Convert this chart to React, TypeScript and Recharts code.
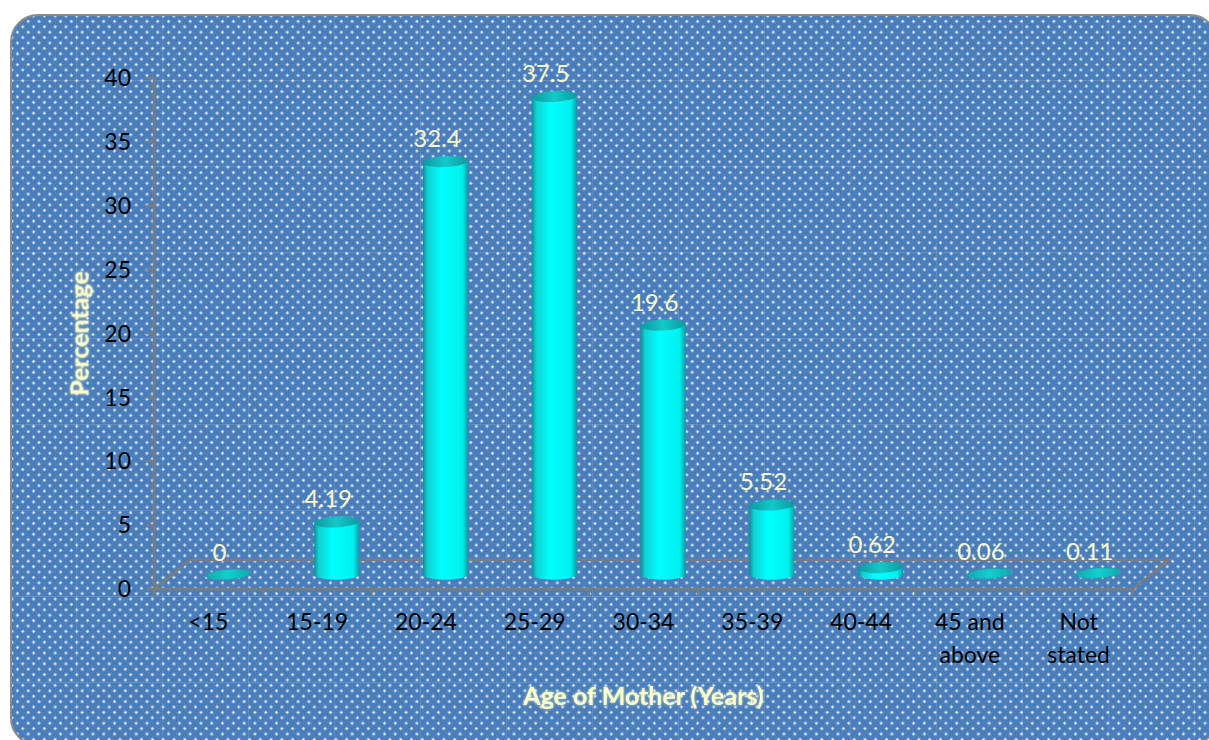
import { BarChart, Bar, XAxis, YAxis, LabelList } from 'recharts';

const categories = ['<15', '15-19', '20-24', '25-29', '30-34', '35-39', '40-44', '45 and\nabove', 'Not\nstated'];
const percentages = [0, 4.19, 32.4, 37.5, 19.6, 5.52, 0.62, 0.06, 0.11];
const yTicks = [0, 5, 10, 15, 20, 25, 30, 35, 40];

const data = categories.map((name, i) => ({ name, value: percentages[i] }));

const AXIS = '#7c7c7c';
const CREAM = '#fdf8c8';
const FONT = 'Lato, "Open Sans", sans-serif';

// floor is a parallelogram behind the bars, the bars stand halfway into it
const DEPTH_X = 36;
const DEPTH_Y = 29;
const BAND = 108.8;

const panelStyle: React.CSSProperties = {
  position: 'absolute',
  left: 10,
  top: 14,
  width: 1208,
  height: 732,
  boxSizing: 'border-box',
  border: '2px solid #8a8a8a',
  borderRadius: 28,
  backgroundColor: '#4a7ebb',
  backgroundImage: [
    'linear-gradient(rgba(255,255,255,0.13) 1px, transparent 1px)',
    'linear-gradient(90deg, rgba(255,255,255,0.1) 1px, transparent 1px)',
    'radial-gradient(circle, #ffffff 0, #ffffff 0.6px, rgba(255,255,255,0.3) 1.4px, transparent 2.2px)',
    'radial-gradient(circle, #ffffff 0, #ffffff 0.6px, rgba(255,255,255,0.3) 1.4px, transparent 2.2px)',
  ].join(','),
  backgroundSize: '86px 86px, 86px 86px, 10.8px 10.8px, 10.8px 10.8px',
  backgroundPosition: '0 64px, 64px 0, 0 0, 5.4px 5.4px',
};

const Cylinder = ({ x, y, width, height }: any) => {
  const cx = x + width / 2 + DEPTH_X / 2 + 1.5;
  const rx = width / 2;
  const ry = 5.5;
  const top = y - DEPTH_Y / 2 + 1;
  const bottom = y + height - DEPTH_Y / 2;
  if (height < 2) {
    return (
      <ellipse cx={cx} cy={top - 1} rx={rx} ry={5} fill="url(#cylinderFlat)" stroke="#1a9fa5" strokeWidth={0.5}
        transform={`rotate(-4 ${cx} ${top - 1})`} />
    );
  }
  return (
    <g>
      <path
        d={`M${cx - rx} ${top} L${cx - rx} ${bottom + 1} A${rx} ${ry} 0 0 0 ${cx + rx} ${bottom - 2} L${cx + rx} ${top} Z`}
        fill="url(#cylinderBody)"
      />
      <ellipse cx={cx} cy={top} rx={rx} ry={ry} fill="url(#cylinderCap)" transform={`rotate(-3 ${cx} ${top})`} />
    </g>
  );
};

const AgeTick = ({ x, y, payload, index }: any) => {
  const lines = String(payload.value).split('\n');
  return (
    <g>
      {index === 0 && (
        <line x1={x - BAND / 2} x2={x - BAND / 2} y1={y - 8} y2={y} stroke={AXIS} strokeWidth={2} />
      )}
      <line x1={x + BAND / 2} x2={x + BAND / 2} y1={y - 8} y2={y - 1} stroke={AXIS} strokeWidth={2} />
      <text x={x} y={y + 33} textAnchor="middle" fontSize={23} fontFamily={FONT} fill="#000">
        {lines.map((line, i) => (
          <tspan key={line} x={x} dy={i === 0 ? 0 : 33}>{line}</tspan>
        ))}
      </text>
    </g>
  );
};

const ValueLabel = ({ x, y, width, value }: any) => (
  <text x={x + width / 2 + 11} y={y - 28} textAnchor="middle" fontSize={24} fontFamily={FONT} fill={CREAM}>
    {value}
  </text>
);

const titleStyle = {
  fontFamily: FONT,
  fontSize: 25,
  fontWeight: 700,
  fill: '#feffc8',
  textAnchor: 'middle',
  filter: 'drop-shadow(0 0 1.5px rgba(255,255,200,0.7))',
};

export default function App() {
  return (
    <div style={{ position: 'absolute', left: 0, top: 0, width: 1209, height: 740, overflow: 'hidden', background: '#fff' }}>
      <div style={panelStyle} />
      <div style={{ position: 'absolute', left: 0, top: 0 }}>
        <BarChart
          width={1209}
          height={740}
          data={data}
          barSize={45}
          margin={{ top: 78, right: 76, bottom: 0, left: 0 }}
        >
          <defs>
            <linearGradient id="cylinderBody" x1="0" x2="1" y1="0" y2="0">
              <stop offset="0" stopColor="#0c8f96" />
              <stop offset="0.1" stopColor="#10d2d4" />
              <stop offset="0.4" stopColor="#00ffff" />
              <stop offset="0.85" stopColor="#00f0f0" />
              <stop offset="1" stopColor="#0a929a" />
            </linearGradient>
            <linearGradient id="cylinderCap" x1="0" x2="1" y1="0" y2="0">
              <stop offset="0" stopColor="#0c9aa0" />
              <stop offset="0.5" stopColor="#14c8c8" />
              <stop offset="1" stopColor="#0c9aa0" />
            </linearGradient>
            <linearGradient id="cylinderFlat" x1="0" x2="1" y1="0" y2="0">
              <stop offset="0" stopColor="#10a8ac" />
              <stop offset="0.5" stopColor="#14cfcf" />
              <stop offset="1" stopColor="#10a8ac" />
            </linearGradient>
          </defs>
          <path
            d={`M154 589 L${154 + DEPTH_X} 560 L${1133 + DEPTH_X} 560 L1133 589`}
            fill="none"
            stroke={AXIS}
            strokeWidth={2.5}
          />
          <XAxis
            dataKey="name"
            interval={0}
            height={151}
            axisLine={{ stroke: AXIS, strokeWidth: 2.5 }}
            tickLine={false}
            tick={<AgeTick />}
            label={{ value: 'Age of Mother (Years)', position: 'insideBottom', offset: 35, style: titleStyle }}
          />
          <YAxis
            domain={[0, 40]}
            ticks={yTicks}
            width={154}
            axisLine={{ stroke: AXIS, strokeWidth: 2.5 }}
            tickLine={{ stroke: AXIS, strokeWidth: 2 }}
            tickSize={8}
            tickMargin={15}
            tick={{ fill: '#000', fontSize: 23, fontFamily: FONT }}
            label={{ value: 'Percentage', angle: -90, position: 'insideLeft', offset: 80, style: titleStyle }}
          />
          <Bar dataKey="value" shape={<Cylinder />} isAnimationActive={false}>
            <LabelList dataKey="value" content={<ValueLabel />} />
          </Bar>
        </BarChart>
      </div>
    </div>
  );
}
